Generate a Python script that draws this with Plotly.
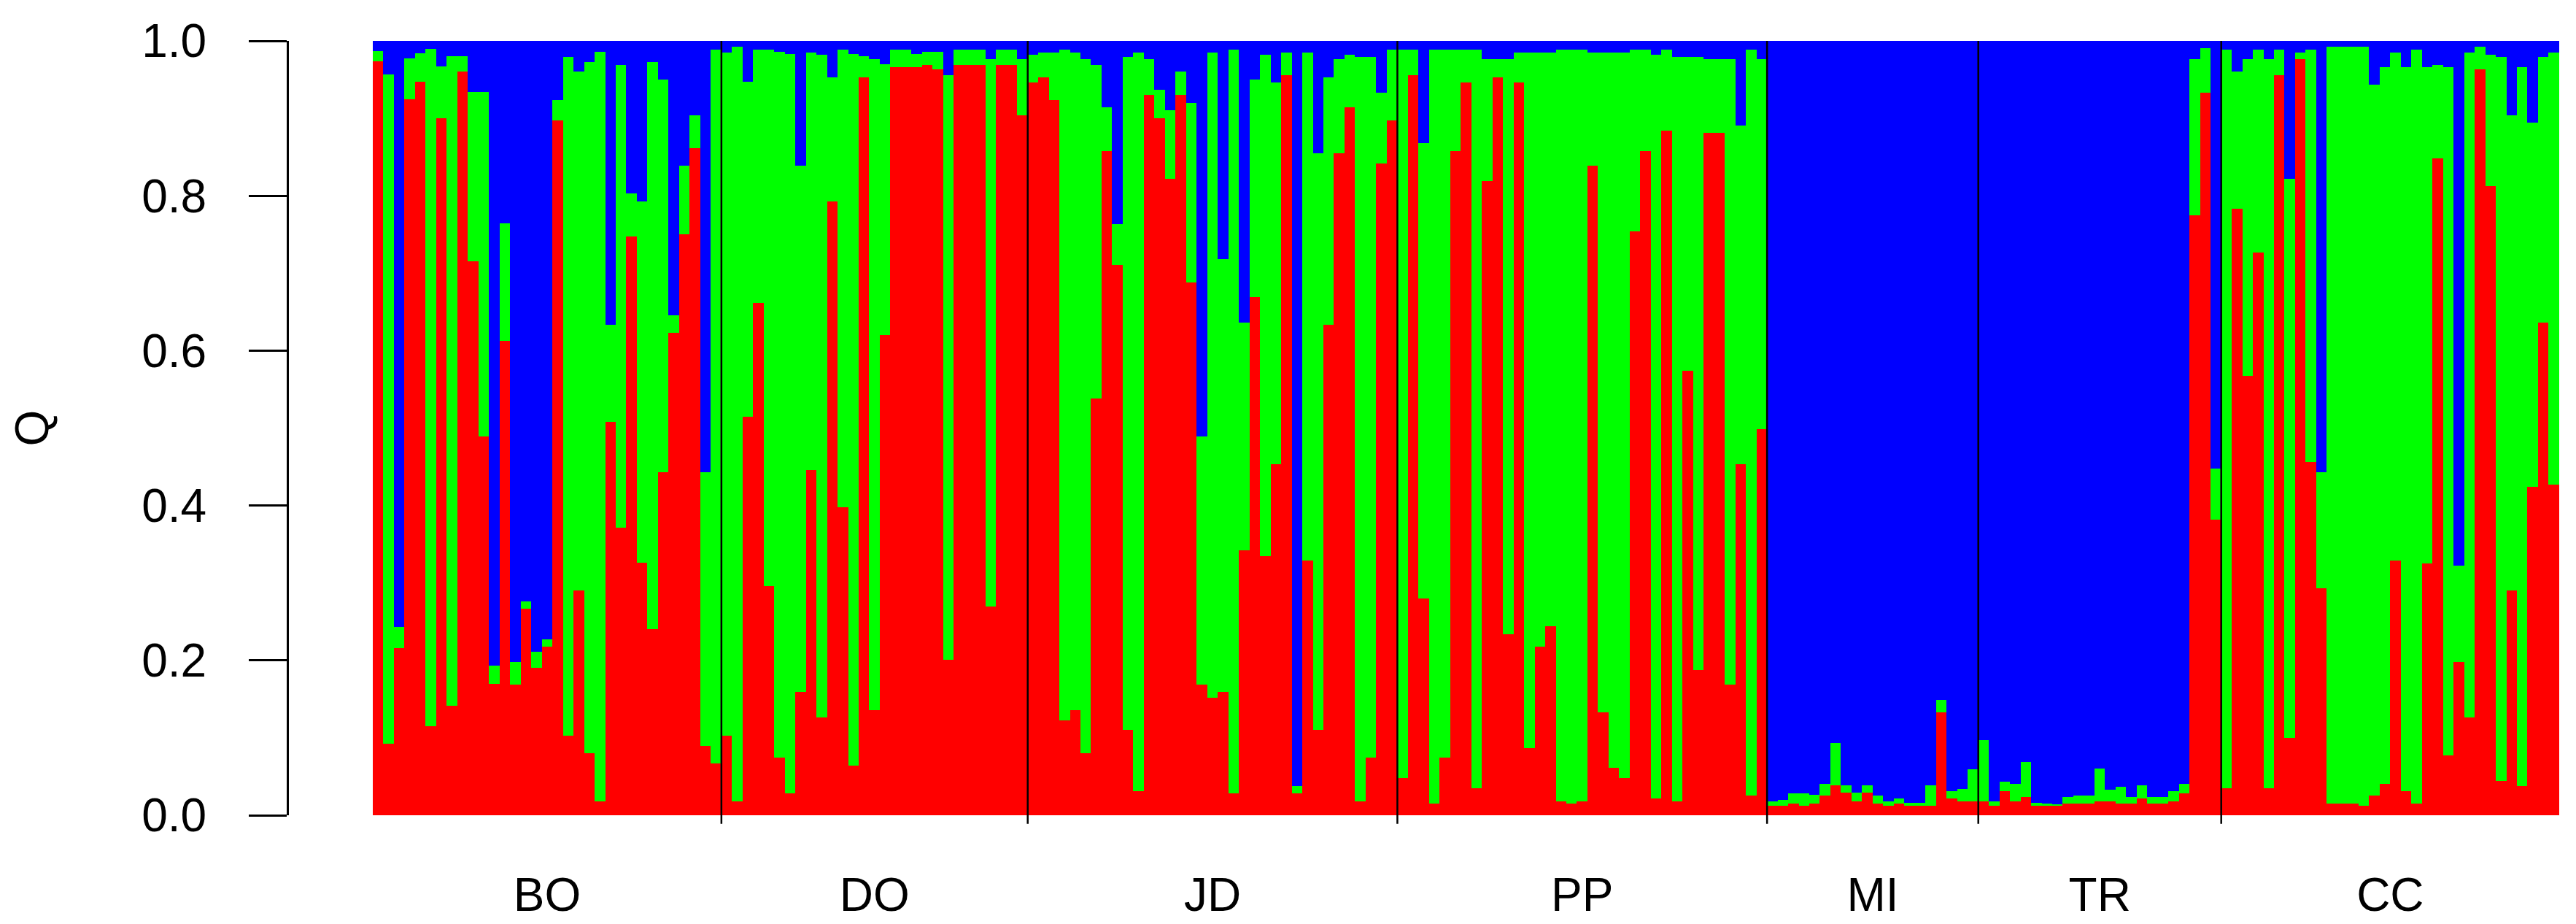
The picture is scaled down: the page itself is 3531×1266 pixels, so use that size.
import numpy as np
import plotly.graph_objects as go

# population groups, in plotting order
groups = ["BO", "DO", "JD", "PP", "MI", "TR", "CC"]

# membership coefficients (Q) per individual: red cluster, green cluster; blue = 1 - red - green
red_BO = [.974, .092, .216, .925, .947, .115, .900, .141, .960, .715, .489, .170, .613, .169, .267, .190, .218,
          .897, .103, .290, .080, .018, .508, .371, .747, .326, .240, .443, .623, .750, .861, .090, .067]
green_BO = [.013, .865, .027, .052, .037, .875, .067, .839, .020, .219, .445, .023, .151, .029, .009, .021, .009,
            .027, .876, .670, .893, .968, .125, .598, .056, .467, .733, .507, .023, .089, .043, .353, .922]

red_DO = [.103, .018, .515, .662, .296, .074, .028, .159, .446, .126, .793, .398, .064, .953, .136, .620, .966,
          .966, .966, .969, .963, .201, .969, .969, .969, .270, .969, .969, .904]
green_DO = [.882, .974, .432, .327, .693, .912, .955, .680, .539, .856, .160, .591, .919, .027, .840, .350, .023,
            .023, .017, .017, .023, .755, .020, .020, .020, .706, .020, .020, .072]

red_JD = [.946, .953, .924, .123, .136, .080, .538, .858, .711, .110, .031, .930, .900, .822, .930, .688, .169,
          .152, .159, .028, .342, .669, .335, .453, .956, .028, .329, .110, .633, .855, .914, .018, .074, .842, .897]
green_JD = [.036, .032, .061, .866, .849, .896, .431, .056, .052, .869, .954, .046, .037, .088, .030, .232, .320,
            .833, .559, .961, .294, .281, .647, .493, .029, .010, .656, .745, .320, .121, .068, .961, .905, .091, .092]

red_PP = [.048, .956, .280, .015, .074, .858, .946, .035, .819, .953, .234, .946, .087, .218, .244, .018, .015,
          .018, .839, .133, .061, .048, .754, .858, .022, .884, .018, .574, .188, .881, .881, .169, .453, .025, .499]
green_PP = [.941, .033, .588, .974, .915, .131, .043, .954, .157, .023, .742, .039, .898, .767, .741, .971, .974,
            .971, .146, .852, .924, .937, .235, .131, .960, .105, .961, .405, .791, .095, .095, .807, .438, .964, .477]

red_MI = [.012, .012, .015, .012, .015, .025, .039, .029, .018, .029, .015, .012, .015, .012, .012, .012, .133,
          .022, .018, .018]
green_MI = [.006, .008, .013, .016, .011, .016, .054, .010, .011, .010, .010, .006, .007, .004, .004, .027, .016,
            .009, .016, .041]

red_TR = [.018, .012, .031, .018, .024, .012, .012, .012, .015, .015, .015, .018, .018, .015, .015, .022, .015,
          .015, .018, .028, .775, .933, .382]
green_TR = [.079, .006, .012, .023, .045, .004, .003, .002, .009, .010, .010, .042, .015, .022, .009, .017, .009,
            .009, .013, .013, .201, .058, .066]

red_CC = [.035, .783, .567, .727, .035, .956, .100, .976, .456, .293, .015, .015, .015, .012, .025, .041, .329,
          .031, .015, .325, .848, .077, .198, .126, .963, .812, .044, .290, .038, .424, .636, .427]
green_CC = [.954, .177, .409, .262, .941, .033, .722, .009, .533, .150, .977, .977, .977, .980, .918, .925, .656,
            .935, .974, .641, .121, .889, .124, .859, .029, .170, .935, .614, .928, .470, .343, .558]

red = red_BO + red_DO + red_JD + red_PP + red_MI + red_TR + red_CC
green = green_BO + green_DO + green_JD + green_PP + green_MI + green_TR + green_CC
red = np.array(red)
green = np.array(green)
blue = 1 - red - green
idx = np.arange(len(red))

sizes = [len(red_BO), len(red_DO), len(red_JD), len(red_PP), len(red_MI), len(red_TR), len(red_CC)]
bounds = np.cumsum(sizes)
centers = bounds - np.array(sizes) / 2 - 0.5

fig = go.Figure()
for vals, col in [(red, "#FF0000"), (green, "#00FF00"), (blue, "#0000FF")]:
    fig.add_trace(go.Bar(x=idx, y=vals, width=1, marker=dict(color=col, line=dict(width=0)),
                         showlegend=False))

# black separators between populations, running a little below the plot
for b in bounds[:-1]:
    fig.add_shape(type="line", xref="x", yref="paper", x0=b - 0.5, x1=b - 0.5, y0=-0.011, y1=1,
                  line=dict(color="black", width=2.5))

font = "Arial, Liberation Sans, sans-serif"
fig.update_layout(
    width=3531, height=1266,
    barmode="stack", bargap=0,
    plot_bgcolor="white", paper_bgcolor="white",
    margin=dict(l=386, r=31, t=46, b=156),
    font=dict(family=font, size=64, color="black"),
    xaxis=dict(domain=[0.0376, 1], range=[-0.5, len(red) - 0.5], showgrid=False, zeroline=False,
               showline=False, ticks="", tickvals=centers, ticktext=groups,
               tickfont=dict(size=64), ticklabelstandoff=66),
    yaxis=dict(range=[0, 1], anchor="free", position=0, showgrid=False, zeroline=False,
               showline=True, linecolor="black", linewidth=3, ticks="outside", ticklen=52,
               tickwidth=2.5, tickcolor="black", tickvals=[0, 0.2, 0.4, 0.6, 0.8, 1.0],
               ticktext=["0.0", "0.2", "0.4", "0.6", "0.8", "1.0"], tickfont=dict(size=64),
               ticklabelstandoff=45),
)
fig.add_annotation(text="Q", xref="paper", yref="paper", x=-0.1127, y=0.5, showarrow=False,
                   textangle=-90, font=dict(size=64), xanchor="center", yanchor="middle")

fig.write_html("out.html")
